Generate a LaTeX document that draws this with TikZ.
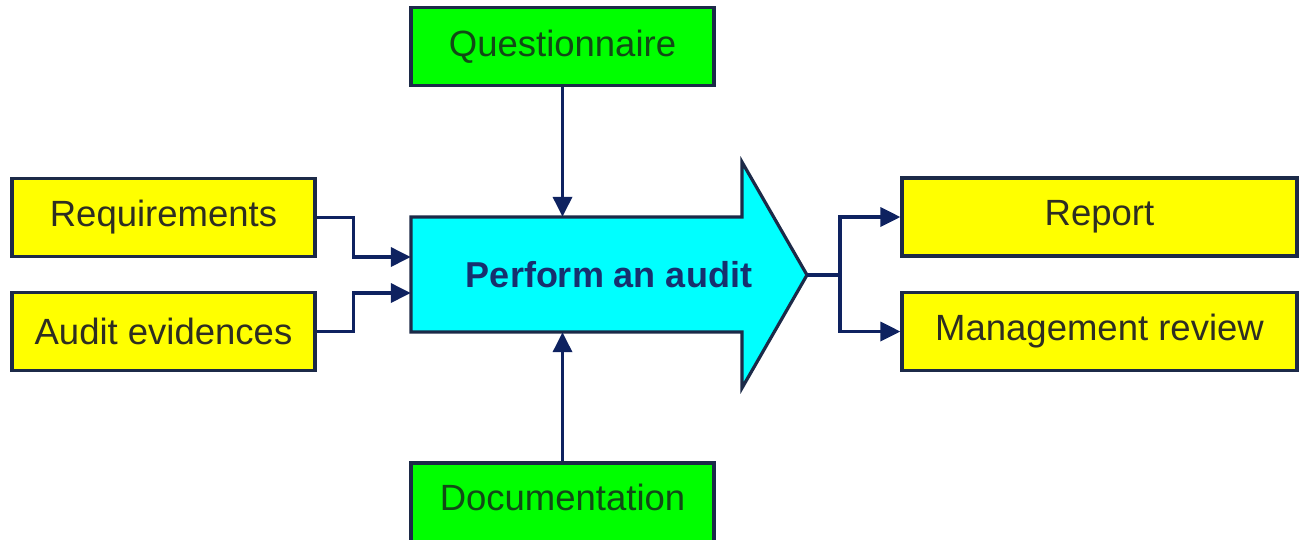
\documentclass[tikz,border=0pt]{standalone}
\usepackage{fontspec}
\setmainfont{Liberation Sans}
\usetikzlibrary{arrows.meta}
\definecolor{boxline}{HTML}{1C2A48}
\definecolor{conncol}{HTML}{0E2260}
\definecolor{ybox}{HTML}{FFFF00}
\definecolor{gbox}{HTML}{00FF00}
\definecolor{cbox}{HTML}{00FFFF}
\definecolor{ytext}{HTML}{2E2E22}
\definecolor{gtext}{HTML}{124A16}
\definecolor{atext}{HTML}{17306E}
\tikzset{
  ybx/.style={draw=boxline, line width=3.2pt, fill=ybox, text=ytext, minimum width=303pt, minimum height=78pt, inner sep=0pt, font=\fontsize{36.5}{40}\selectfont},
  gbx/.style={draw=boxline, line width=3.2pt, fill=gbox, text=gtext, minimum width=303pt, minimum height=78pt, inner sep=0pt, font=\fontsize{36.5}{40}\selectfont},
  conn/.style={draw=conncol, line width=3.5pt, -{Triangle[length=20pt,width=19pt]}},
  plain/.style={draw=conncol, line width=3.5pt}
}
\begin{document}
\begin{tikzpicture}[x=1pt,y=-1pt]
\useasboundingbox (0,0) rectangle (1309,539);
\clip (0,0) rectangle (1309,539);
\fill[white] (0,0) rectangle (1309,539);
% big arrow
\draw[boxline, line width=3.2pt, fill=cbox, line join=miter]
  (411,217) -- (742,217) -- (742,162) -- (807,275) -- (742,388) -- (742,332) -- (411,332) -- cycle;
\node[inner sep=0pt, minimum width=331pt, minimum height=115pt] (body) at (576.5,274.5) {};
\coordinate (tip) at (807,275);
\node[text=atext, font=\bfseries\fontsize{36}{40}\selectfont] (audit) at (609,275) {Perform an audit};
% boxes
\node[gbx] (Q) at (562.5,46.5) {Questionnaire};
\node[gbx, minimum height=82pt] (D) at (562.5,504) {};
\node[text=gtext, font=\fontsize{36.5}{40}\selectfont] (Dt) at (562.5,497) {Documentation};
\node[ybx] (Req) at (163.5,217.5) {Requirements};
\node[ybx] (AE) at (163.5,331.5) {Audit evidences};
\node[ybx, minimum width=395pt] (Rep) at (1099.5,217) {Report};
\node[ybx, minimum width=395pt] (MR) at (1099.5,331.5) {Management review};
% connectors
\draw[conn] (Q.south) -- (Q.south |- body.north);
\draw[conn] (D.north) -- (D.north |- body.south);
\draw[conn] (Req.east) -- ++(37,0) |- ([yshift=17.5pt]body.west);
\draw[conn] (AE.east) -- ++(37,0) |- ([yshift=-18.5pt]body.west);
\draw[plain] (tip) -- ++(33,0) coordinate (split);
\draw[conn] (split) |- (Rep.west);
\draw[conn] (split) |- (MR.west);
\end{tikzpicture}
\end{document}
